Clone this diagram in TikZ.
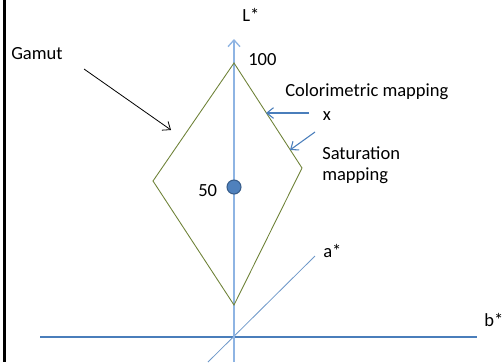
\documentclass[tikz,border=0pt]{standalone}
\usepackage{fontspec}
\setmainfont{Carlito}
\usetikzlibrary{arrows.meta}
\definecolor{axlight}{HTML}{8EB4E3}
\definecolor{axblue}{HTML}{4A7EBB}
\definecolor{olive}{HTML}{6E8237}
\definecolor{dotfill}{HTML}{4F81BD}
\definecolor{dotline}{HTML}{385D8A}
\begin{document}
\begin{tikzpicture}[x=0.75pt,y=-0.75pt,
  lbl/.style={anchor=base west,inner sep=0pt,font=\fontsize{13.9}{16.7}\selectfont},
  gamutline/.style={draw=olive,line width=0.65pt},
  mapArrow/.style={draw=axblue,line width=0.8pt,-{Straight Barb[length=5pt,width=8pt]}}]
\useasboundingbox (0,0) rectangle (502,362);
\fill[white] (0,0) rectangle (502,362);
\draw[black,line width=2.4pt] (4.5,0) -- (4.5,362);
% axes
\coordinate (Lbot) at (234,362);
\coordinate (Ltop) at (234,39);
\coordinate (abot) at (208,362);
\coordinate (atop) at (315,256);
\coordinate (bleft) at (40,337);
\coordinate (bright) at (477,337);
\draw[axblue,line width=0.85pt] (bleft) -- (bright);
\draw[axblue!80,line width=0.6pt] (abot) -- (atop);
\draw[axlight,line width=2pt,-{Straight Barb[length=5pt,width=9pt,line width=1pt]}] (Lbot) -- (Ltop);
% gamut diamond
\coordinate (gtop) at (234,63);
\coordinate (gright) at (302,168);
\coordinate (gbot) at (234,305);
\coordinate (gleft) at (153,181);
\draw[gamutline] (gtop) -- (gright) -- (gbot) -- (gleft) -- cycle;
% point 50
\node[circle,fill=dotfill,draw=dotline,line width=0.8pt,minimum size=10.5pt,inner sep=0pt] (dot) at (234,187) {};
% labels
\node[lbl] (Llbl) at (242,21.7) {L*};
\node[lbl] (l100) at (248,65) {100};
\node[lbl] (l50) at (198,196) {50};
\node[lbl] (gamut) at (11,59.3) {Gamut};
\node[lbl] (colm) at (285,96) {Colorimetric mapping};
\node[lbl] (xl) at (322.5,120.5) {x};
\node[lbl] (sat) at (322,159.3) {Saturation};
\node[lbl] (sat2) at (322,180.5) {mapping};
\node[lbl] (alb) at (323,257.3) {a*};
\node[lbl] (blb) at (484,326.7) {b*};
% arrows
\coordinate (gs) at (84,69);
\coordinate (ge) at (171,130);
\draw[black,line width=0.6pt,-{Straight Barb[length=5pt,width=8pt]}] (gs) -- (ge);
\coordinate (cs) at (309,113);
\coordinate (ce) at (266,113);
\draw[mapArrow] (cs) -- (ce);
\coordinate (ss) at (315,132);
\coordinate (se) at (290,150);
\draw[mapArrow] (ss) -- (se);
\end{tikzpicture}
\end{document}
